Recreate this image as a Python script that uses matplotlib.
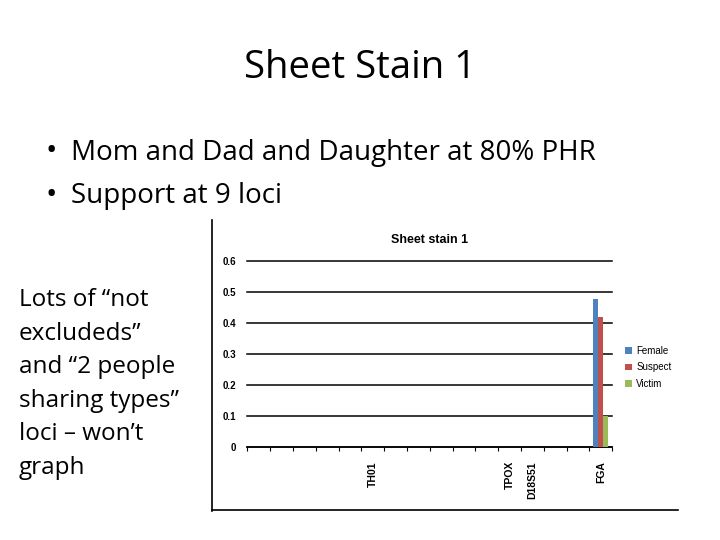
import numpy as np
import matplotlib.pyplot as plt
from matplotlib.lines import Line2D

# ── data ──────────────────────────────────────────────────────────────────────
loci = ["", "", "", "", "", "TH01", "", "", "", "", "", "TPOX", "D18S51", "", "", "FGA"]
female  = [0, 0, 0, 0, 0, 0, 0, 0, 0, 0, 0, 0, 0, 0, 0, 0.48]
suspect = [0, 0, 0, 0, 0, 0, 0, 0, 0, 0, 0, 0, 0, 0, 0, 0.42]
victim  = [0, 0, 0, 0, 0, 0, 0, 0, 0, 0, 0, 0, 0, 0, 0, 0.10]
series_names = ["Female", "Suspect", "Victim"]
series_colors = ["#4F81BD", "#C0504D", "#9BBB59"]

bullets = ["Mom and Dad and Daughter at 80% PHR", "Support at 9 loci"]
side_lines = ["Lots of \u201cnot", "excludeds\u201d", "and \u201c2 people",
              "sharing types\u201d", "loci \u2013 won\u2019t", "graph"]

SLIDE_FONT = ["Open Sans", "DejaVu Sans"]
CHART_FONT = ["Liberation Sans", "DejaVu Sans"]

fig = plt.figure(figsize=(7.2, 5.4), dpi=100)

# ── slide text ────────────────────────────────────────────────────────────────
fig.text(0.5, 1 - 78.3 / 540, "Sheet Stain 1", ha="center", va="baseline",
         fontsize=27.5, family=SLIDE_FONT)
for i, b in enumerate(bullets):
    base = 160 + 43.5 * i
    fig.text(45 / 720, 1 - (base - 8) / 540, "\u2022", ha="left", va="center",
             fontsize=22, family=SLIDE_FONT)
    fig.text(71 / 720, 1 - base / 540, b, ha="left", va="baseline",
             fontsize=20, family=SLIDE_FONT)
for i, s in enumerate(side_lines):
    fig.text(19 / 720, 1 - (306 + 33.6 * i) / 540, s, ha="left", va="baseline",
             fontsize=17.5, family=SLIDE_FONT)

# ── chart image border ────────────────────────────────────────────────────────
fig.add_artist(Line2D([212 / 720, 212 / 720], [1 - 220 / 540, 1 - 511 / 540],
                      color="black", lw=1.2))
fig.add_artist(Line2D([212 / 720, 678 / 720], [1 - 510 / 540, 1 - 510 / 540],
                      color="black", lw=1.2))

# ── chart ─────────────────────────────────────────────────────────────────────
ax = fig.add_axes([247.3 / 720, 1 - 447.3 / 540, 365 / 720, 186 / 540])
x = np.arange(len(loci))
w = 0.22
for k, (vals, name, col) in enumerate(zip([female, suspect, victim], series_names, series_colors)):
    ax.bar(x + (k - 1) * w, vals, width=w, color=col, label=name, zorder=3)

ax.set_xlim(-0.5, len(loci) - 0.5)
ax.set_ylim(0, 0.6)
ax.set_yticks(np.arange(0, 0.61, 0.1))
ax.set_yticklabels(["0", "0.1", "0.2", "0.3", "0.4", "0.5", "0.6"],
                   fontsize=7, fontweight="bold", family=CHART_FONT)
ax.tick_params(axis="y", length=0, pad=8)
ax.yaxis.grid(True, color="black", lw=1.1, zorder=0)
for gl in ax.get_ygridlines():
    gl.set_clip_on(False)
ax.set_axisbelow(True)

ax.set_xticks(x)
ax.set_xticklabels(loci, rotation=90, fontsize=7.5, fontweight="bold", family=CHART_FONT)
ax.set_xticks(np.arange(-0.5, len(loci)), minor=True)
ax.tick_params(axis="x", which="major", length=0, pad=10)
ax.tick_params(axis="x", which="minor", length=3, width=0.8, direction="out")

for side in ["top", "left", "right"]:
    ax.spines[side].set_visible(False)
ax.spines["bottom"].set_linewidth(1.1)

ax.set_title("Sheet stain 1", fontsize=9, fontweight="bold", family=CHART_FONT, pad=13)

ax.legend(loc="center left", bbox_to_anchor=(1.01, 0.43), frameon=False,
          prop={"family": CHART_FONT, "size": 7}, handlelength=0.7, handleheight=0.7,
          handletextpad=0.5, labelspacing=0.7)

fig.savefig("out.png", dpi=100)
